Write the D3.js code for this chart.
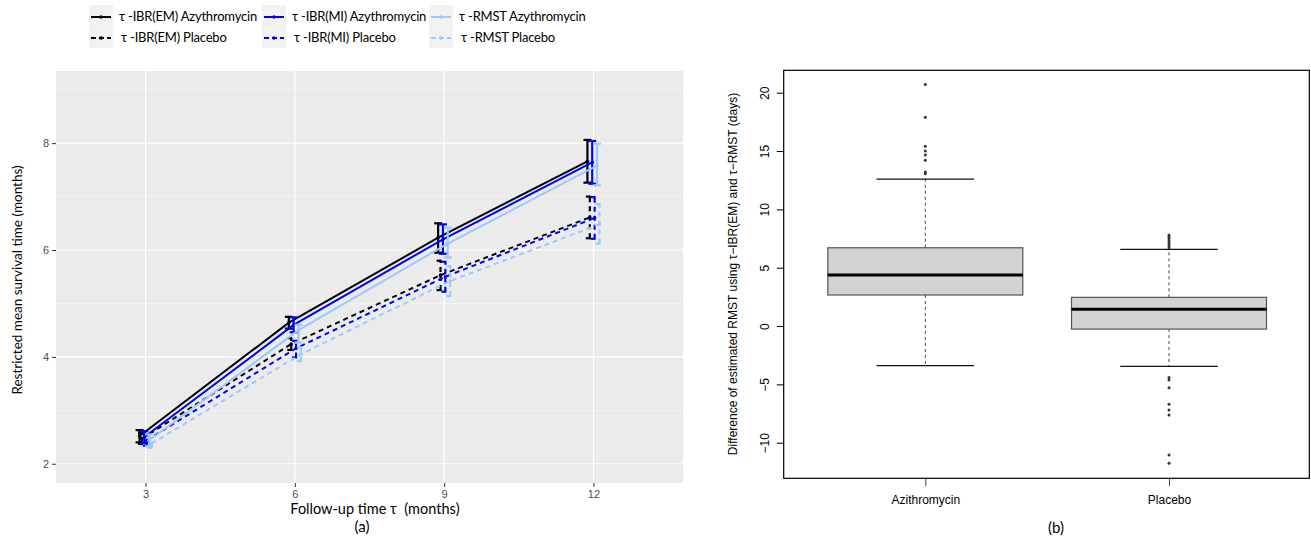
<!DOCTYPE html>
<html>
<head>
<meta charset="utf-8">
<script src="https://cdn.jsdelivr.net/npm/d3@7"></script>
<style>
  html, body { margin: 0; padding: 0; background: #fff; }
  svg { display: block; }
</style>
</head>
<body>
<svg id="chart" width="1311" height="540"></svg>
<script>
// ---- Panel (a): restricted mean survival time by follow-up time ----
const months = [3, 6, 9, 12];
const xTicksA = [3, 6, 9, 12];
const yTicksA = [2, 4, 6, 8];
const yMinorA = [3, 5, 7, 9];

const seriesNames = [
  "τ -IBR(EM) Azythromycin", "τ -IBR(EM) Placebo",
  "τ -IBR(MI) Azythromycin", "τ -IBR(MI) Placebo",
  "τ -RMST Azythromycin", "τ -RMST Placebo"
];
const seriesColors = ["#000000", "#000000", "#0000ff", "#0000ff", "#99c9ff", "#99c9ff"];
const seriesDashed = [false, true, false, true, false, true];

const emAziMean = [2.52, 4.64, 6.23, 7.66];
const emAziLo   = [2.40, 4.53, 5.95, 7.26];
const emAziHi   = [2.63, 4.75, 6.50, 8.06];
const emPlaMean = [2.47, 4.24, 5.53, 6.61];
const emPlaLo   = [2.37, 4.13, 5.25, 6.22];
const emPlaHi   = [2.58, 4.35, 5.80, 7.00];
const miAziMean = [2.50, 4.60, 6.20, 7.64];
const miAziLo   = [2.39, 4.46, 5.93, 7.24];
const miAziHi   = [2.61, 4.74, 6.48, 8.04];
const miPlaMean = [2.44, 4.16, 5.50, 6.60];
const miPlaLo   = [2.34, 3.99, 5.22, 6.21];
const miPlaHi   = [2.55, 4.30, 5.78, 6.99];
const rmstAziMean = [2.44, 4.50, 6.12, 7.58];
const rmstAziLo   = [2.33, 4.27, 5.86, 7.21];
const rmstAziHi   = [2.55, 4.60, 6.42, 7.99];
const rmstPlaMean = [2.38, 4.05, 5.42, 6.48];
const rmstPlaLo   = [2.30, 3.92, 5.14, 6.12];
const rmstPlaHi   = [2.48, 4.18, 5.70, 6.86];

const means = [emAziMean, emPlaMean, miAziMean, miPlaMean, rmstAziMean, rmstPlaMean];
const lows  = [emAziLo, emPlaLo, miAziLo, miPlaLo, rmstAziLo, rmstPlaLo];
const highs = [emAziHi, emPlaHi, miAziHi, miPlaHi, rmstAziHi, rmstPlaHi];

// ---- Panel (b): difference of estimated RMST (days) ----
const groups = ["Azithromycin", "Placebo"];
const yTicksB = [-10, -5, 0, 5, 10, 15, 20];
const boxLowerWhisker = [-3.40, -3.46];
const boxQ1           = [2.66, -0.26];
const boxMedian       = [4.37, 1.43];
const boxQ3           = [6.71, 2.46];
const boxUpperWhisker = [12.60, 6.57];
const outliersAzi = [13.05, 13.2, 14.2, 14.65, 15.0, 15.4, 17.9, 20.7];
const outliersPla = [6.7, 6.9, 7.1, 7.3, 7.5, 7.65, 7.8, -4.4, -4.63, -5.29, -6.71, -7.2, -7.63, -11.06, -11.77];
const outliers = [outliersAzi, outliersPla];

const svg = d3.select("#chart");

// ================= Panel (a) =================
const xA = d3.scaleLinear().domain([1.2, 13.8]).range([56, 683]);
const yA = d3.scaleLinear().domain([1.64, 9.35]).range([483, 71]);
const dodgeWidth = 0.29;
const dodge = i => (i - (seriesNames.length - 1) / 2) * dodgeWidth / seriesNames.length;

const pa = svg.append("g");
pa.append("rect")
  .attr("x", xA.range()[0]).attr("y", yA.range()[1])
  .attr("width", xA.range()[1] - xA.range()[0])
  .attr("height", yA.range()[0] - yA.range()[1])
  .attr("fill", "#ebebeb");

pa.selectAll(".minor-y").data(yMinorA).join("line")
  .attr("x1", xA.range()[0]).attr("x2", xA.range()[1])
  .attr("y1", d => yA(d)).attr("y2", d => yA(d))
  .attr("stroke", "#fafafa").attr("stroke-width", 0.6);
pa.selectAll(".major-y").data(yTicksA).join("line")
  .attr("x1", xA.range()[0]).attr("x2", xA.range()[1])
  .attr("y1", d => yA(d)).attr("y2", d => yA(d))
  .attr("stroke", "#fff").attr("stroke-width", 1.2);
pa.selectAll(".major-x").data(xTicksA).join("line")
  .attr("y1", yA.range()[0]).attr("y2", yA.range()[1])
  .attr("x1", d => xA(d)).attr("x2", d => xA(d))
  .attr("stroke", "#fff").attr("stroke-width", 1.2);

// axes
const axL = pa.append("g").attr("transform", `translate(${xA.range()[0]},0)`)
  .call(d3.axisLeft(yA).tickValues(yTicksA).tickSize(4).tickPadding(3));
const axB = pa.append("g").attr("transform", `translate(0,${yA.range()[0]})`)
  .call(d3.axisBottom(xA).tickValues(xTicksA).tickSize(4).tickPadding(3));
[axL, axB].forEach(ax => {
  ax.select(".domain").remove();
  ax.selectAll(".tick line").attr("stroke", "#333").attr("stroke-width", 1);
  ax.selectAll(".tick text").attr("fill", "#4d4d4d")
    .style("font-family", "'Liberation Sans', Arial, sans-serif").style("font-size", "11px");
});

// series lines and error bars
const capHalf = 0.08;
seriesNames.forEach((name, i) => {
  const pts = months.map((m, j) => ({x: m + dodge(i), y: means[i][j], lo: lows[i][j], hi: highs[i][j]}));
  const g = pa.append("g");
  const dash = seriesDashed[i] ? "5,4" : null;
  g.append("path")
    .datum(pts)
    .attr("d", d3.line().x(d => xA(d.x)).y(d => yA(d.y)))
    .attr("fill", "none").attr("stroke", seriesColors[i]).attr("stroke-width", 2)
    .attr("stroke-dasharray", dash);
  const eb = g.selectAll(".eb").data(pts).join("g");
  eb.append("line")
    .attr("x1", d => xA(d.x)).attr("x2", d => xA(d.x))
    .attr("y1", d => yA(d.lo)).attr("y2", d => yA(d.hi));
  eb.append("line")
    .attr("x1", d => xA(d.x - capHalf)).attr("x2", d => xA(d.x + capHalf))
    .attr("y1", d => yA(d.hi)).attr("y2", d => yA(d.hi));
  eb.append("line")
    .attr("x1", d => xA(d.x - capHalf)).attr("x2", d => xA(d.x + capHalf))
    .attr("y1", d => yA(d.lo)).attr("y2", d => yA(d.lo));
  eb.selectAll("line").attr("stroke", seriesColors[i]).attr("stroke-width", 2.2)
    .attr("stroke-dasharray", dash);
  g.selectAll(".pt").data(pts).join("circle")
    .attr("cx", d => xA(d.x)).attr("cy", d => yA(d.y)).attr("r", 1.8)
    .attr("fill", seriesColors[i]);
});

// axis titles
const calib = "Lato, 'Open Sans', sans-serif";
pa.append("text")
  .attr("transform", `translate(22,${(yA.range()[0] + yA.range()[1]) / 2 + 3}) rotate(-90)`)
  .attr("text-anchor", "middle").attr("font-family", calib).attr("font-size", 13.5)
  .attr("fill", "#000").text("Restricted mean survival time (months)");
pa.append("text")
  .attr("x", 375).attr("y", 514)
  .attr("text-anchor", "middle").attr("font-family", calib).attr("font-size", 14.5)
  .attr("fill", "#000").attr("xml:space", "preserve").text("Follow-up time τ  (months)");
pa.append("text")
  .attr("x", 362).attr("y", 532)
  .attr("text-anchor", "middle").attr("font-family", calib).attr("font-size", 15)
  .attr("fill", "#000").text("(a)");

// legend (3 columns x 2 rows)
const legCols = [89, 262, 429];
const legRowY = [16, 37];
seriesNames.forEach((name, i) => {
  const col = Math.floor(i / 2), row = i % 2;
  const kx = legCols[col], ky = legRowY[row];
  const lg = svg.append("g");
  lg.append("rect").attr("x", kx).attr("y", ky - 11).attr("width", 24).attr("height", 22)
    .attr("fill", "#f2f2f2");
  lg.append("line").attr("x1", kx + 2).attr("x2", kx + 22).attr("y1", ky + 1).attr("y2", ky + 1)
    .attr("stroke", seriesColors[i]).attr("stroke-width", 2)
    .attr("stroke-dasharray", seriesDashed[i] ? "5,3" : null);
  lg.append("circle").attr("cx", kx + 12).attr("cy", ky + 1).attr("r", 1.8).attr("fill", seriesColors[i]);
  lg.append("text").attr("x", kx + 30 + (row === 1 ? 2 : 0)).attr("y", ky + 5)
    .attr("font-family", calib).attr("font-size", 13).attr("letter-spacing", -0.2)
    .attr("fill", "#000").text(name);
});

// ================= Panel (b) =================
const xB = d3.scaleLinear().domain([1, 2]).range([925.3, 1169]);
const yB = d3.scaleLinear().domain([-13.05, 21.92]).range([478.3, 70.3]);
const arial = "'Liberation Sans', Arial, sans-serif";
const boxW = 0.8, capW = 0.4;
const pb = svg.append("g");

groups.forEach((gname, i) => {
  const c = i + 1;
  const g = pb.append("g");
  // whiskers (dashed)
  g.append("line").attr("x1", xB(c)).attr("x2", xB(c))
    .attr("y1", yB(boxQ3[i])).attr("y2", yB(boxUpperWhisker[i]))
    .attr("stroke", "#444").attr("stroke-width", 1).attr("stroke-dasharray", "3,3");
  g.append("line").attr("x1", xB(c)).attr("x2", xB(c))
    .attr("y1", yB(boxQ1[i])).attr("y2", yB(boxLowerWhisker[i]))
    .attr("stroke", "#444").attr("stroke-width", 1).attr("stroke-dasharray", "3,3");
  // caps
  [boxUpperWhisker[i], boxLowerWhisker[i]].forEach(v => {
    g.append("line").attr("x1", xB(c - capW / 2)).attr("x2", xB(c + capW / 2))
      .attr("y1", yB(v)).attr("y2", yB(v)).attr("stroke", "#111").attr("stroke-width", 1.2);
  });
  // box
  g.append("rect").attr("x", xB(c - boxW / 2)).attr("width", xB(c + boxW / 2) - xB(c - boxW / 2))
    .attr("y", yB(boxQ3[i])).attr("height", yB(boxQ1[i]) - yB(boxQ3[i]))
    .attr("fill", "#d3d3d3").attr("stroke", "#555").attr("stroke-width", 1.2);
  g.append("line").attr("x1", xB(c - boxW / 2)).attr("x2", xB(c + boxW / 2))
    .attr("y1", yB(boxMedian[i])).attr("y2", yB(boxMedian[i]))
    .attr("stroke", "#000").attr("stroke-width", 3);
  // outliers
  g.selectAll(".o").data(outliers[i]).join("circle")
    .attr("cx", xB(c)).attr("cy", d => yB(d)).attr("r", 1.5).attr("fill", "#333");
});

// frame
pb.append("rect").attr("x", 783.7).attr("y", 70.3).attr("width", 1309.3 - 783.7).attr("height", 478.3 - 70.3)
  .attr("fill", "none").attr("stroke", "#000").attr("stroke-width", 1.2);

// y axis (rotated labels)
const yAxB = pb.append("g").attr("transform", "translate(783.7,0)")
  .call(d3.axisLeft(yB).tickValues(yTicksB).tickSize(7).tickFormat(d3.format("d")));
yAxB.select(".domain").remove();
yAxB.selectAll(".tick line").attr("stroke", "#000");
yAxB.selectAll(".tick text")
  .attr("x", null).attr("dy", null)
  .attr("transform", "translate(-19,0) rotate(-90)")
  .attr("text-anchor", "middle").attr("dominant-baseline", "central")
  .style("font-family", arial).style("font-size", "12px").attr("fill", "#000");

// x axis
const xAxB = pb.append("g").attr("transform", "translate(0,478.3)")
  .call(d3.axisBottom(xB).tickValues([1, 2]).tickSize(8).tickPadding(9).tickFormat((d, i) => groups[i]));
xAxB.select(".domain").remove();
xAxB.selectAll(".tick line").attr("stroke", "#444");
xAxB.selectAll(".tick text").style("font-family", arial).style("font-size", "12px").attr("fill", "#000");

pb.append("text")
  .attr("transform", `translate(733,274) rotate(-90)`)
  .attr("text-anchor", "middle").attr("dominant-baseline", "central")
  .attr("font-family", arial).attr("font-size", 12).attr("fill", "#000")
  .text("Difference of estimated RMST using τ−IBR(EM) and τ−RMST (days)");
pb.append("text")
  .attr("x", 1056).attr("y", 533)
  .attr("text-anchor", "middle").attr("font-family", calib).attr("font-size", 15)
  .attr("fill", "#000").text("(b)");
</script>
</body>
</html>
